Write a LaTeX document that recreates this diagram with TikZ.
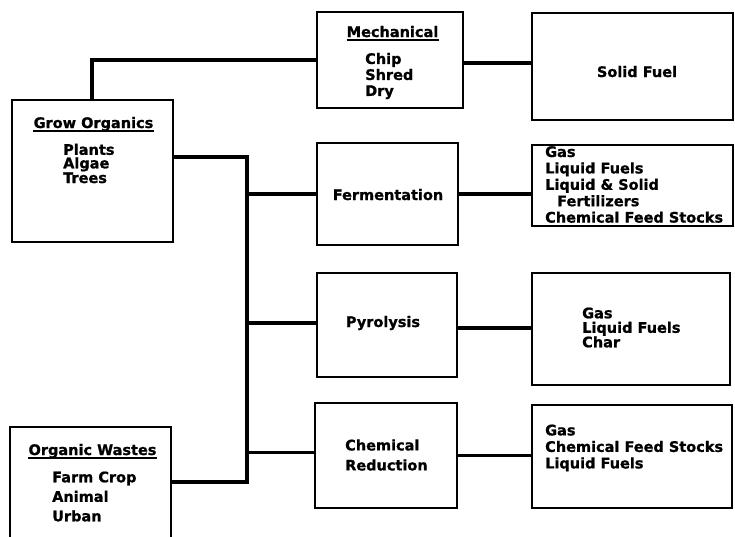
\documentclass[tikz,border=0pt]{standalone}
\usepackage{fontspec}
\setmainfont{DejaVu Sans}[BoldFeatures={FakeBold=1}]
\begin{document}
\begin{tikzpicture}[x=1pt,y=-1pt,
  box/.style={draw, line width=2pt, inner sep=0pt},
  conn/.style={draw, line width=3.5pt, line join=miter},
  ul/.style={draw, line width=1.8pt},
  txt/.style={inner sep=0pt, font=\fontsize{14.5}{16}\selectfont\bfseries, align=left}]
\useasboundingbox (0,0) rectangle (735,536);
\clip (0,0) rectangle (735,536);
\fill[white] (0,0) rectangle (735,536);
% boxes
\node[box, minimum width=161pt, minimum height=142pt] (grow)  at (92.5,171) {};
\node[box, minimum width=146pt, minimum height=96pt]  (mech)  at (390,60) {};
\node[box, minimum width=201pt, minimum height=107pt] (solid) at (632.5,66.5) {};
\node[box, minimum width=141pt, minimum height=102pt] (ferm)  at (387.5,194) {};
\node[box, minimum width=201pt, minimum height=81pt]  (out2)  at (632.5,185.5) {};
\node[box, minimum width=140pt, minimum height=104pt] (pyro)  at (387,325) {};
\node[box, minimum width=198pt, minimum height=112pt] (out3)  at (631,329) {};
\node[box, minimum width=142pt, minimum height=105pt] (chem)  at (386,455.5) {};
\node[box, minimum width=200pt, minimum height=103pt] (out4)  at (632,456.5) {};
\node[box, minimum width=161pt, minimum height=133pt] (waste) at (90.5,493.5) {};
% texts
\node[txt, anchor=base] (growT) at (93.5,128) {Grow Organics};
\draw[ul] ([yshift=-3pt]growT.base west) -- ([yshift=-3pt]growT.base east);
\node[txt, anchor=west, font=\fontsize{14.5}{13.5}\selectfont\bfseries] (growL) at (63,163.5) {Plants\\Algae\\Trees};
\node[txt, anchor=base] (mechT) at (392.5,37) {Mechanical};
\draw[ul] ([yshift=-3pt]mechT.base west) -- ([yshift=-3pt]mechT.base east);
\node[txt, anchor=west] (mechL) at (365,76) {Chip\\Shred\\Dry};
\node[txt, anchor=base] (solidT) at (637,77) {Solid Fuel};
\node[txt, anchor=base] (fermT) at (388,200) {Fermentation};
\node[txt, anchor=west, font=\fontsize{14.5}{16.4}\selectfont\bfseries] (out2L) at (545,184.5)
  {Gas\\Liquid Fuels\\Liquid \& Solid\\\hspace*{12pt}Fertilizers\\Chemical Feed Stocks};
\node[txt, anchor=base] (pyroT) at (383,327) {Pyrolysis};
\node[txt, anchor=west, font=\fontsize{14.5}{14.5}\selectfont\bfseries] (out3L) at (582,327.5) {Gas\\Liquid Fuels\\Char};
\node[txt, anchor=west, font=\fontsize{14.5}{20}\selectfont\bfseries] (chemT) at (345,455) {Chemical\\Reduction};
\node[txt, anchor=west, font=\fontsize{14.5}{16.5}\selectfont\bfseries] (out4L) at (545,448) {Gas\\Chemical Feed Stocks\\Liquid Fuels};
\node[txt, anchor=base] (wasteT) at (92.5,455) {Organic Wastes};
\draw[ul] ([yshift=-3pt]wasteT.base west) -- ([yshift=-3pt]wasteT.base east);
\node[txt, anchor=west, font=\fontsize{14.5}{19.5}\selectfont\bfseries] (wasteL) at (52,496.5) {Farm Crop\\Animal\\Urban};
% connectors
\coordinate (mj) at (92,60);
\coordinate (bt) at (247,157);
\coordinate (bb) at (247,482);
\draw[conn] (grow.north -| mj) -- (mj) -- (mech.west |- mj);
\draw[conn] ([yshift=-3pt]mech.east) -- ([yshift=-3pt]mech.east -| solid.west);
\draw[conn] (grow.east |- bt) -- (bt) -- (bb) -- (waste.east |- bb);
\draw[conn] (ferm.west -| bt) -- (ferm.west);
\draw[conn] (ferm.east) -- (ferm.east -| out2.west);
\draw[conn] ([yshift=2pt]pyro.west -| bt) -- ([yshift=2pt]pyro.west);
\draw[conn] ([yshift=-3pt]pyro.east) -- ([yshift=-3pt]pyro.east -| out3.west);
\draw[conn] ([yshift=3pt]chem.west -| bt) -- ([yshift=3pt]chem.west);
\draw[conn] (chem.east) -- (chem.east -| out4.west);
\end{tikzpicture}
\end{document}
